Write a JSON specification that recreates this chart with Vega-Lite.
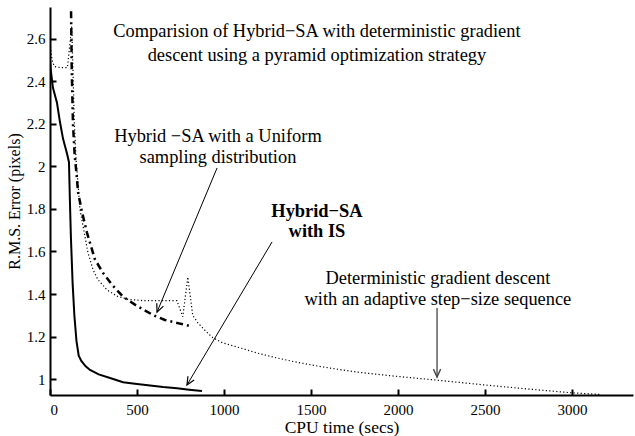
{
  "$schema": "https://vega.github.io/schema/vega-lite/v6.json",
  "autosize": {"type": "none"},
  "padding": {"left": 50, "top": 7, "right": 2, "bottom": 41},
  "width": 583,
  "height": 388,
  "background": "white",
  "config": {
    "view": {"stroke": null},
    "font": "Liberation Serif",
    "axis": {
      "grid": false,
      "domainColor": "black",
      "domainWidth": 2,
      "tickColor": "black",
      "tickWidth": 2,
      "tickSize": -6,
      "labelFont": "Liberation Serif",
      "labelFontSize": 15,
      "labelColor": "black",
      "titleFont": "Liberation Serif",
      "titleFontSize": 16,
      "titleFontWeight": "normal",
      "titleColor": "black"
    }
  },
  "datasets": {
    "solid": [
      {"t": 0, "e": 2.5}, {"t": 5, "e": 2.45}, {"t": 17, "e": 2.37}, {"t": 40, "e": 2.3},
      {"t": 57, "e": 2.21}, {"t": 75, "e": 2.13}, {"t": 98, "e": 2.06}, {"t": 109, "e": 2.02},
      {"t": 114, "e": 1.85}, {"t": 120, "e": 1.67}, {"t": 130, "e": 1.45}, {"t": 140, "e": 1.3},
      {"t": 152, "e": 1.18}, {"t": 165, "e": 1.11}, {"t": 180, "e": 1.085}, {"t": 205, "e": 1.06},
      {"t": 230, "e": 1.043}, {"t": 280, "e": 1.022}, {"t": 345, "e": 1.005}, {"t": 420, "e": 0.985},
      {"t": 500, "e": 0.977}, {"t": 575, "e": 0.97}, {"t": 650, "e": 0.963}, {"t": 730, "e": 0.957},
      {"t": 800, "e": 0.95}, {"t": 873, "e": 0.944}
    ],
    "dashdot": [
      {"t": 121, "e": 2.73}, {"t": 125, "e": 2.45}, {"t": 132, "e": 2.2}, {"t": 142, "e": 2.05},
      {"t": 152, "e": 1.97}, {"t": 161, "e": 1.88}, {"t": 184, "e": 1.785}, {"t": 212, "e": 1.69},
      {"t": 258, "e": 1.563}, {"t": 304, "e": 1.5}, {"t": 356, "e": 1.444}, {"t": 419, "e": 1.388},
      {"t": 488, "e": 1.35}, {"t": 540, "e": 1.325}, {"t": 600, "e": 1.298}, {"t": 660, "e": 1.278},
      {"t": 740, "e": 1.262}, {"t": 818, "e": 1.247}
    ],
    "dotted": [
      {"t": 0, "e": 2.58}, {"t": 12, "e": 2.5}, {"t": 25, "e": 2.47}, {"t": 60, "e": 2.465},
      {"t": 100, "e": 2.465}, {"t": 125, "e": 2.66}, {"t": 132, "e": 2.45}, {"t": 140, "e": 2.2},
      {"t": 150, "e": 2.03}, {"t": 160, "e": 1.93}, {"t": 172, "e": 1.8}, {"t": 201, "e": 1.67},
      {"t": 218, "e": 1.595}, {"t": 247, "e": 1.515}, {"t": 275, "e": 1.468}, {"t": 327, "e": 1.42},
      {"t": 384, "e": 1.39}, {"t": 448, "e": 1.375}, {"t": 534, "e": 1.369}, {"t": 729, "e": 1.369},
      {"t": 763, "e": 1.293}, {"t": 792, "e": 1.48}, {"t": 820, "e": 1.3}, {"t": 849, "e": 1.265},
      {"t": 901, "e": 1.22}, {"t": 935, "e": 1.195}, {"t": 993, "e": 1.17}, {"t": 1100, "e": 1.145},
      {"t": 1188, "e": 1.123}, {"t": 1300, "e": 1.1}, {"t": 1400, "e": 1.082}, {"t": 1566, "e": 1.057},
      {"t": 1761, "e": 1.033}, {"t": 1951, "e": 1.016}, {"t": 2222, "e": 0.995}, {"t": 2500, "e": 0.972},
      {"t": 2750, "e": 0.953}, {"t": 3000, "e": 0.935}, {"t": 3157, "e": 0.928}
    ],
    "labels": [
      {"t": 1534, "e": 2.611, "label": "Comparision of Hybrid\u2212SA with deterministic gradient"},
      {"t": 1534, "e": 2.498, "label": "descent using a pyramid optimization strategy"},
      {"t": 965, "e": 2.115, "label": "Hybrid \u2212SA with a Uniform"},
      {"t": 965, "e": 2.016, "label": "sampling distribution"},
      {"t": 2229, "e": 1.447, "label": "Deterministic gradient descent"},
      {"t": 2229, "e": 1.348, "label": "with an adaptive step\u2212size sequence"}
    ],
    "boldLabels": [
      {"t": 1534, "e": 1.762, "label": "Hybrid\u2212SA"},
      {"t": 1534, "e": 1.668, "label": "with IS"}
    ],
    "arrows": [
      {"name": "uniform", "t": 960, "e": 1.993, "t2": 615, "e2": 1.315},
      {"name": "is", "t": 1276, "e": 1.645, "t2": 787, "e2": 0.972}
    ],
    "arrowGray": [
      {"name": "det", "t": 2224, "e": 1.334, "t2": 2224, "e2": 1.009}
    ]
  },
  "encoding": {
    "x": {"field": "t", "type": "quantitative", "scale": {"domain": [0, 3350], "nice": false, "zero": false},
      "axis": {"title": "CPU time (secs)", "values": [0, 500, 1000, 1500, 2000, 2500, 3000], "format": "d", "labelPadding": 13, "titlePadding": 1, "titleFontSize": 17.5}},
    "y": {"field": "e", "type": "quantitative", "scale": {"domain": [0.925, 2.75], "nice": false, "zero": false},
      "axis": {"title": "R.M.S. Error (pixels)", "values": [1, 1.2, 1.4, 1.6, 1.8, 2, 2.2, 2.4, 2.6], "format": "~g", "labelPadding": 11, "titlePadding": 4}}
  },
  "layer": [
    {"data": {"name": "dotted"}, "mark": {"type": "line", "color": "black", "strokeWidth": 1.2, "strokeDash": [1.2, 2.3], "clip": true}},
    {"data": {"name": "dashdot"}, "mark": {"type": "line", "color": "black", "strokeWidth": 2.5, "strokeDash": [7, 4, 2, 4], "clip": true}},
    {"data": {"name": "solid"}, "mark": {"type": "line", "color": "black", "strokeWidth": 2, "clip": true}},
    {"data": {"name": "labels"}, "mark": {"type": "text", "font": "Liberation Serif", "fontSize": 18.4, "align": "center", "baseline": "alphabetic", "color": "black"},
      "encoding": {"text": {"field": "label"}}},
    {"data": {"name": "boldLabels"}, "mark": {"type": "text", "font": "Liberation Serif", "fontSize": 18.4, "fontWeight": "bold", "align": "center", "baseline": "alphabetic", "color": "black"},
      "encoding": {"text": {"field": "label"}}},
    {"data": {"name": "arrows"}, "mark": {"type": "rule", "color": "black", "strokeWidth": 1},
      "encoding": {"x2": {"field": "t2"}, "y2": {"field": "e2"}}},
    {"data": {"name": "arrowGray"}, "mark": {"type": "rule", "color": "#444444", "strokeWidth": 1.3},
      "encoding": {"x2": {"field": "t2"}, "y2": {"field": "e2"}}},
    {"data": {"name": "arrows"}, "transform": [{"filter": "datum.name === 'uniform'"}],
      "mark": {"type": "point", "shape": "M -0.45 -1 L 0 0 L 0.45 -1", "size": 256, "filled": false, "stroke": "black", "strokeWidth": 1.2, "angle": 22.6, "opacity": 1},
      "encoding": {"x": {"field": "t2", "type": "quantitative"}, "y": {"field": "e2", "type": "quantitative"}}},
    {"data": {"name": "arrows"}, "transform": [{"filter": "datum.name === 'is'"}],
      "mark": {"type": "point", "shape": "M -0.45 -1 L 0 0 L 0.45 -1", "size": 256, "filled": false, "stroke": "black", "strokeWidth": 1.2, "angle": 30.7, "opacity": 1},
      "encoding": {"x": {"field": "t2", "type": "quantitative"}, "y": {"field": "e2", "type": "quantitative"}}},
    {"data": {"name": "arrowGray"},
      "mark": {"type": "point", "shape": "M -0.45 -1 L 0 0 L 0.45 -1", "size": 256, "filled": false, "stroke": "#444444", "strokeWidth": 1.3, "angle": 0, "opacity": 1},
      "encoding": {"x": {"field": "t2", "type": "quantitative"}, "y": {"field": "e2", "type": "quantitative"}}}
  ]
}
